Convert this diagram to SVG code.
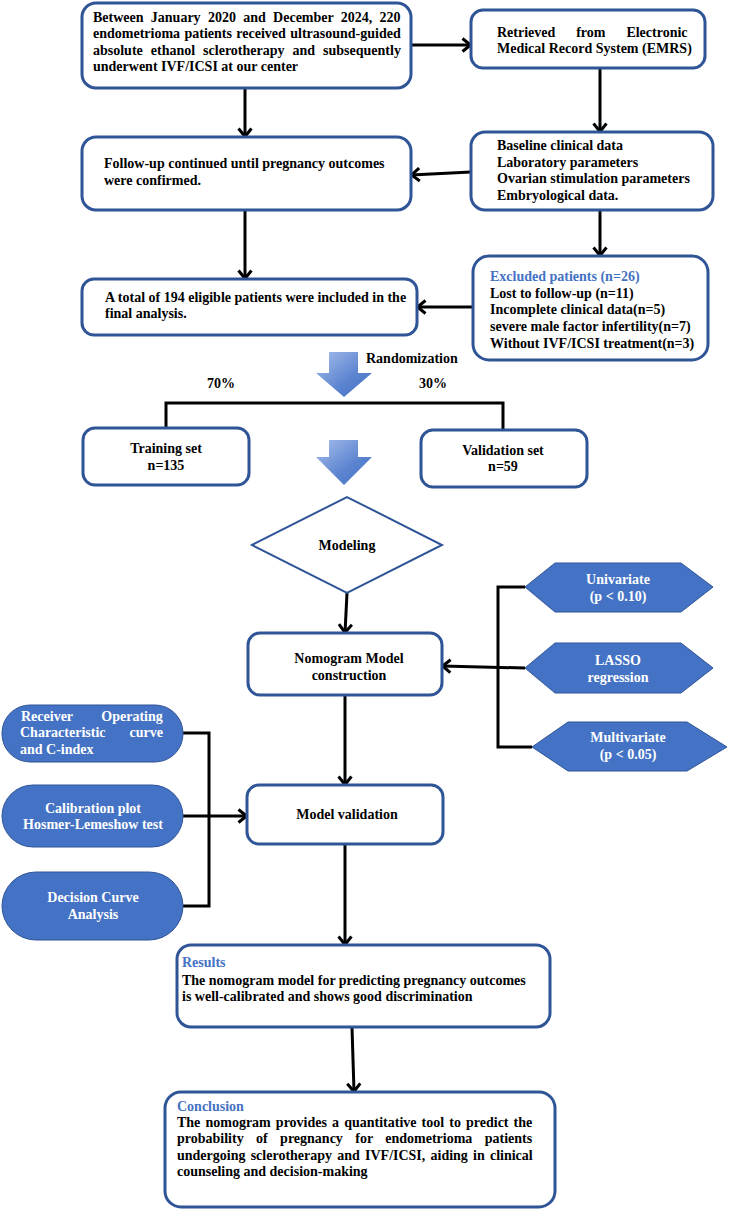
<svg xmlns="http://www.w3.org/2000/svg" width="730" height="1210" viewBox="0 0 730 1210">
<style>
text{font-family:"Liberation Serif","Times New Roman",serif;font-weight:bold;font-size:14px;fill:#000}
.box{fill:#fff;stroke:#2F5597;stroke-width:3}
.dia{fill:#fff;stroke:#2F5597;stroke-width:2}
.shape{fill:#4472C4;stroke:#2F5597;stroke-width:1}
.w{fill:#fff}
.ttl{fill:#4472C4}
.mid{text-anchor:middle}
.c{fill:none;stroke:#000;stroke-width:3}
.a{fill:none;stroke:#000;stroke-width:3;marker-end:url(#arr)}
</style>
<defs>
<marker id="arr" viewBox="0 0 12 16" refX="10.5" refY="8" markerWidth="12" markerHeight="16" markerUnits="userSpaceOnUse" orient="auto">
<path d="M2,1.5 L10,8 L2,14.5" fill="none" stroke="#000" stroke-width="3"/>
</marker>
<linearGradient id="bg" x1="0" y1="0" x2="1" y2="1">
<stop offset="0" stop-color="#A9BEEC"/>
<stop offset="0.6" stop-color="#5B84D0"/>
<stop offset="1" stop-color="#4472C4"/>
</linearGradient>
</defs>

<g id="connectors">
<line class="a" x1="411" y1="45" x2="471" y2="45"/>
<line class="a" x1="245" y1="88" x2="245" y2="137"/>
<line class="a" x1="600" y1="68" x2="600" y2="132"/>
<line class="a" x1="471" y1="172" x2="411" y2="175"/>
<line class="a" x1="600" y1="210" x2="600" y2="256"/>
<line class="a" x1="245" y1="210" x2="245" y2="279"/>
<line class="a" x1="473" y1="307" x2="417" y2="307"/>
<polyline class="c" points="166,428 166,403 503,403 503,430"/>
<line class="a" x1="347" y1="593" x2="345" y2="633"/>
<polyline class="c" points="525,587 498,587 498,747 532,747"/>
<line class="a" x1="525" y1="668" x2="442" y2="666"/>
<polyline class="c" points="183,733 209,733 209,906 183,906"/>
<line class="a" x1="183" y1="816" x2="247" y2="816"/>
<line class="a" x1="345" y1="695" x2="345" y2="785"/>
<line class="a" x1="345" y1="844" x2="345" y2="945"/>
<line class="a" x1="352" y1="1027" x2="354" y2="1092"/>
</g>

<g id="blockarrow1">
<polygon fill="url(#bg)" points="329,352 358,352 358,373 372,373 344,397 316,373 329,373"/>
</g>
<g id="blockarrow2">
<polygon fill="url(#bg)" points="329,440 358,440 358,457 372,457 344,485 316,457 329,457"/>
</g>
<text x="366" y="363">Randomization</text>
<text x="207" y="388">70%</text>
<text x="419" y="388">30%</text>

<g id="n-start">
<rect class="box" x="82" y="3" width="329" height="85" rx="14"/>
<text x="93" y="22" style="word-spacing:3.8px">Between January 2020 and December 2024, 220</text>
<text x="93" y="38" style="word-spacing:0.9px">endometrioma patients received ultrasound-guided</text>
<text x="93" y="55" style="word-spacing:4.5px">absolute ethanol sclerotherapy and subsequently</text>
<text x="93" y="71">underwent IVF/ICSI at our center</text>
</g>

<g id="n-emrs">
<rect class="box" x="471" y="10" width="234" height="58" rx="12"/>
<text x="497" y="37" style="word-spacing:17.4px">Retrieved from Electronic</text>
<text x="497" y="53">Medical Record System (EMRS)</text>
</g>

<g id="n-followup">
<rect class="box" x="82" y="137" width="329" height="73" rx="14"/>
<text x="104" y="168">Follow-up continued until pregnancy outcomes</text>
<text x="104" y="185">were confirmed.</text>
</g>

<g id="n-data">
<rect class="box" x="471" y="132" width="242" height="78" rx="14"/>
<text x="497" y="150">Baseline clinical data</text>
<text x="497" y="166.5">Laboratory parameters</text>
<text x="497" y="183">Ovarian stimulation parameters</text>
<text x="497" y="199.5">Embryological data.</text>
</g>

<g id="n-excluded">
<rect class="box" x="473" y="256" width="235" height="104" rx="16"/>
<text class="ttl" x="490" y="281">Excluded patients (n=26)</text>
<text x="490" y="298">Lost to follow-up (n=11)</text>
<text x="490" y="314">Incomplete clinical data(n=5)</text>
<text x="490" y="331">severe male factor infertility(n=7)</text>
<text x="490" y="348">Without IVF/ICSI treatment(n=3)</text>
</g>

<g id="n-included">
<rect class="box" x="82" y="279" width="335" height="56" rx="12"/>
<text x="105" y="302">A total of 194 eligible patients were included in the</text>
<text x="105" y="318">final analysis.</text>
</g>

<g id="n-training">
<rect class="box" x="83" y="428" width="166" height="57" rx="12"/>
<text class="mid" x="166" y="453">Training set</text>
<text class="mid" x="166" y="470">n=135</text>
</g>

<g id="n-validation">
<rect class="box" x="421" y="430" width="166" height="57" rx="12"/>
<text class="mid" x="503" y="455">Validation set</text>
<text class="mid" x="503" y="471">n=59</text>
</g>

<g id="n-modeling">
<polygon class="dia" points="252,545 347,497 442,545 347,593"/>
<text class="mid" x="347" y="550">Modeling</text>
</g>

<g id="n-nomogram">
<rect class="box" x="248" y="633" width="194" height="62" rx="12"/>
<text class="mid" x="349" y="663">Nomogram Model</text>
<text class="mid" x="349" y="680">construction</text>
</g>

<g id="n-univariate">
<polygon class="shape" points="525,587 555,563 681,563 713,587 681,612 555,612"/>
<text class="mid w" x="618" y="584">Univariate</text>
<text class="mid w" x="618" y="601">(p &lt; 0.10)</text>
</g>

<g id="n-lasso">
<polygon class="shape" points="525,668 555,643 681,643 713,668 681,693 555,693"/>
<text class="mid w" x="618" y="665">LASSO</text>
<text class="mid w" x="618" y="682">regression</text>
</g>

<g id="n-multivariate">
<polygon class="shape" points="532,747 568,722 687,722 727,747 687,771 568,771"/>
<text class="mid w" x="628" y="742">Multivariate</text>
<text class="mid w" x="628" y="759">(p &lt; 0.05)</text>
</g>

<g id="n-roc">
<rect class="shape" x="2" y="705" width="181" height="57" rx="28"/>
<text class="w" x="21" y="721" style="word-spacing:25px">Receiver Operating</text>
<text class="w" x="20" y="737" style="word-spacing:20.5px">Characteristic curve</text>
<text class="w" x="20" y="754">and C-index</text>
</g>

<g id="n-calibration">
<rect class="shape" x="2" y="785" width="181" height="62" rx="31"/>
<text class="mid w" x="93" y="813">Calibration plot</text>
<text class="mid w" x="93" y="829">Hosmer-Lemeshow test</text>
</g>

<g id="n-dca">
<rect class="shape" x="2" y="872" width="181" height="68" rx="34"/>
<text class="mid w" x="93" y="902">Decision Curve</text>
<text class="mid w" x="93" y="919">Analysis</text>
</g>

<g id="n-modelvalidation">
<rect class="box" x="247" y="785" width="196" height="59" rx="12"/>
<text class="mid" x="347" y="819">Model validation</text>
</g>

<g id="n-results">
<rect class="box" x="177" y="945" width="373" height="82" rx="14"/>
<text class="ttl" x="182" y="967">Results</text>
<text x="182" y="985">The nomogram model for predicting pregnancy outcomes</text>
<text x="182" y="1001">is well-calibrated and shows good discrimination</text>
</g>

<g id="n-conclusion">
<rect class="box" x="165" y="1092" width="390" height="115" rx="16"/>
<text class="ttl" x="177" y="1111">Conclusion</text>
<text x="177" y="1127" style="word-spacing:1.6px">The nomogram provides a quantitative tool to predict the</text>
<text x="177" y="1143" style="word-spacing:8.9px">probability of pregnancy for endometrioma patients</text>
<text x="177" y="1160" style="word-spacing:1.7px">undergoing sclerotherapy and IVF/ICSI, aiding in clinical</text>
<text x="177" y="1176">counseling and decision-making</text>
</g>
</svg>
